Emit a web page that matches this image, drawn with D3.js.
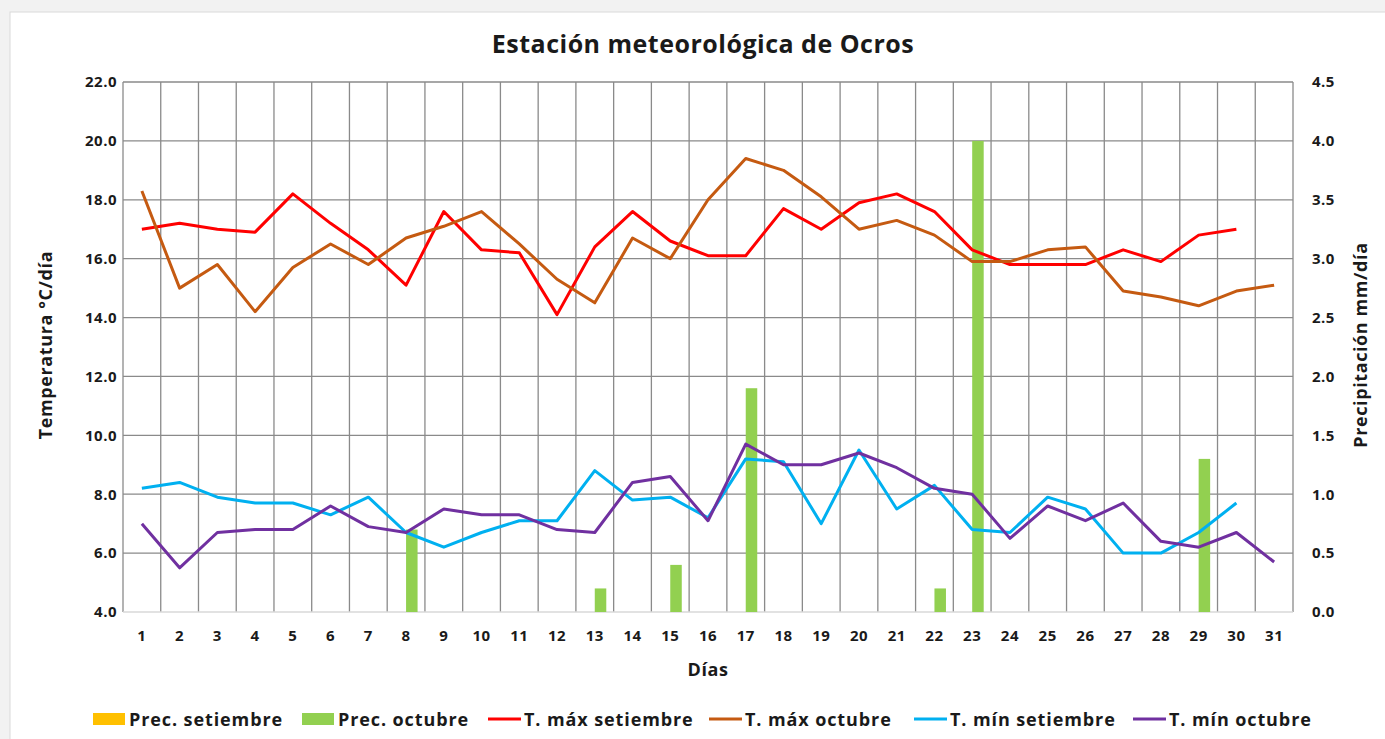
<!DOCTYPE html>
<html>
<head>
<meta charset="utf-8">
<script src="https://cdn.jsdelivr.net/npm/d3@7"></script>
<style>
  body { margin: 0; background: #f2f2f2; }
  svg { display: block; }
  text { font-family: "Open Sans", sans-serif; font-weight: bold; fill: #1a1a1a; }
</style>
</head>
<body>
<svg width="1385" height="739"></svg>
<script>
const days = d3.range(1, 32);
const tMaxSet = [17.0,17.2,17.0,16.9,18.2,17.2,16.3,15.1,17.6,16.3,16.2,14.1,16.4,17.6,16.6,16.1,16.1,17.7,17.0,17.9,18.2,17.6,16.3,15.8,15.8,15.8,16.3,15.9,16.8,17.0,null];
const tMaxOct = [18.3,15.0,15.8,14.2,15.7,16.5,15.8,16.7,17.1,17.6,16.5,15.3,14.5,16.7,16.0,18.0,19.4,19.0,18.1,17.0,17.3,16.8,15.9,15.9,16.3,16.4,14.9,14.7,14.4,14.9,15.1];
const tMinSet = [8.2,8.4,7.9,7.7,7.7,7.3,7.9,6.7,6.2,6.7,7.1,7.1,8.8,7.8,7.9,7.2,9.2,9.1,7.0,9.5,7.5,8.3,6.8,6.7,7.9,7.5,6.0,6.0,6.7,7.7,null];
const tMinOct = [7.0,5.5,6.7,6.8,6.8,7.6,6.9,6.7,7.5,7.3,7.3,6.8,6.7,8.4,8.6,7.1,9.7,9.0,9.0,9.4,8.9,8.2,8.0,6.5,7.6,7.1,7.7,6.4,6.2,6.7,5.7];
const precSet = new Array(31).fill(0);
const precOct = [0,0,0,0,0,0,0,0.7,0,0,0,0,0.2,0,0.4,0,1.9,0,0,0,0,0.2,4.0,0,0,0,0,0,1.3,0,0];
const tempTicks = d3.range(4, 22.01, 2);
const precTicks = d3.range(0, 4.51, 0.5);

const svg = d3.select('svg');
const margin = {left: 123, right: 92, top: 82, bottom: 127};
const width = +svg.attr('width');
const height = +svg.attr('height');
const x0 = margin.left, x1 = width - margin.right;
const y0 = height - margin.bottom, y1 = margin.top;

// chart frame
svg.append('rect').attr('x', 10).attr('y', 12).attr('width', width).attr('height', height)
  .attr('fill', '#fff').attr('stroke', '#d9d9d9');

const xScale = d3.scaleBand().domain(days).range([x0, x1]).padding(0);
const yTemp = d3.scaleLinear().domain([4, 22]).range([y0, y1]);
const yPrec = d3.scaleLinear().domain([0, 4.5]).range([y0, y1]);
const inner = d3.scaleBand().domain(['set', 'oct']).range([0, xScale.bandwidth()])
  .paddingInner(0).paddingOuter(0.64);
const cx = d => xScale(d) + xScale.bandwidth() / 2;

// grid
const grid = svg.append('g').attr('stroke', '#8a8a8a').attr('stroke-width', 1.3);
grid.selectAll('.h').data(tempTicks.filter(t => t > 4)).join('line')
  .attr('x1', x0).attr('x2', x1).attr('y1', d => yTemp(d)).attr('y2', d => yTemp(d));
grid.selectAll('.v').data(days.concat([32])).join('line')
  .attr('x1', d => d <= 31 ? xScale(d) : x1).attr('x2', d => d <= 31 ? xScale(d) : x1)
  .attr('y1', y1).attr('y2', y0);
svg.append('line').attr('x1', x0).attr('x2', x1).attr('y1', y0).attr('y2', y0)
  .attr('stroke', '#d9d9d9').attr('stroke-width', 1.3);

// bars
const barData = [];
days.forEach((d, i) => {
  barData.push({day: d, s: 'set', v: precSet[i], c: '#ffc000'});
  barData.push({day: d, s: 'oct', v: precOct[i], c: '#92d050'});
});
svg.append('g').selectAll('rect').data(barData.filter(b => b.v > 0)).join('rect')
  .attr('x', b => xScale(b.day) + inner(b.s))
  .attr('width', inner.bandwidth())
  .attr('y', b => yPrec(b.v))
  .attr('height', b => yPrec(0) - yPrec(b.v))
  .attr('fill', b => b.c);

// lines
const series = [
  {vals: tMaxSet, c: '#ff0000'},
  {vals: tMaxOct, c: '#c55a11'},
  {vals: tMinSet, c: '#00b0f0'},
  {vals: tMinOct, c: '#7030a0'}
];
const line = d3.line().defined(d => d.v != null).x(d => cx(d.day)).y(d => yTemp(d.v));
svg.append('g').selectAll('path').data(series).join('path')
  .attr('d', s => line(days.map((d, i) => ({day: d, v: s.vals[i]}))))
  .attr('fill', 'none').attr('stroke', s => s.c).attr('stroke-width', 3)
  .attr('stroke-linejoin', 'round');

// axes
const axL = svg.append('g').attr('transform', `translate(${x0},0)`)
  .call(d3.axisLeft(yTemp).tickValues(tempTicks).tickFormat(d3.format('.1f')).tickSize(0).tickPadding(6));
const axR = svg.append('g').attr('transform', `translate(${x1},0)`)
  .call(d3.axisRight(yPrec).tickValues(precTicks).tickFormat(d3.format('.1f')).tickSize(0).tickPadding(19));
const axB = svg.append('g').attr('transform', `translate(0,${y0})`)
  .call(d3.axisBottom(xScale).tickSize(0).tickPadding(18));
[axL, axR, axB].forEach(a => {
  a.select('.domain').remove();
  a.selectAll('text').attr('font-size', 15).attr('letter-spacing', 0.5)
    .attr('font-family', '"Open Sans", sans-serif').attr('fill', '#1a1a1a');
});

// titles
svg.append('text').attr('x', 703).attr('y', 53).attr('text-anchor', 'middle')
  .attr('font-size', 25).attr('letter-spacing', 0.5).text('Estación meteorológica de Ocros');
svg.append('text').attr('x', 708).attr('y', 676).attr('text-anchor', 'middle')
  .attr('font-size', 18).attr('letter-spacing', 0.6).text('Días');
svg.append('text').attr('transform', 'translate(52,345) rotate(-90)').attr('text-anchor', 'middle')
  .attr('font-size', 18).attr('letter-spacing', 0.6).text('Temperatura °C/día');
svg.append('text').attr('transform', 'translate(1367,345) rotate(-90)').attr('text-anchor', 'middle')
  .attr('font-size', 18).attr('letter-spacing', 0.6).text('Precipitación mm/día');

// legend
const legend = [
  {name: 'Prec. setiembre', c: '#ffc000', type: 'bar', x: 93},
  {name: 'Prec. octubre', c: '#92d050', type: 'bar', x: 302},
  {name: 'T. máx setiembre', c: '#ff0000', type: 'line', x: 488},
  {name: 'T. máx octubre', c: '#c55a11', type: 'line', x: 709},
  {name: 'T. mín setiembre', c: '#00b0f0', type: 'line', x: 914},
  {name: 'T. mín octubre', c: '#7030a0', type: 'line', x: 1133}
];
const lg = svg.append('g').selectAll('g').data(legend).join('g')
  .attr('transform', d => `translate(${d.x},719)`);
lg.filter(d => d.type === 'bar').append('rect')
  .attr('x', 0).attr('y', -6).attr('width', 32).attr('height', 12).attr('fill', d => d.c);
lg.filter(d => d.type === 'line').append('line')
  .attr('x1', 0).attr('x2', 33).attr('stroke', d => d.c).attr('stroke-width', 3);
lg.append('text').attr('x', 36).attr('y', 6.5).attr('font-size', 18).attr('letter-spacing', 0.9)
  .text(d => d.name);
</script>
</body>
</html>
